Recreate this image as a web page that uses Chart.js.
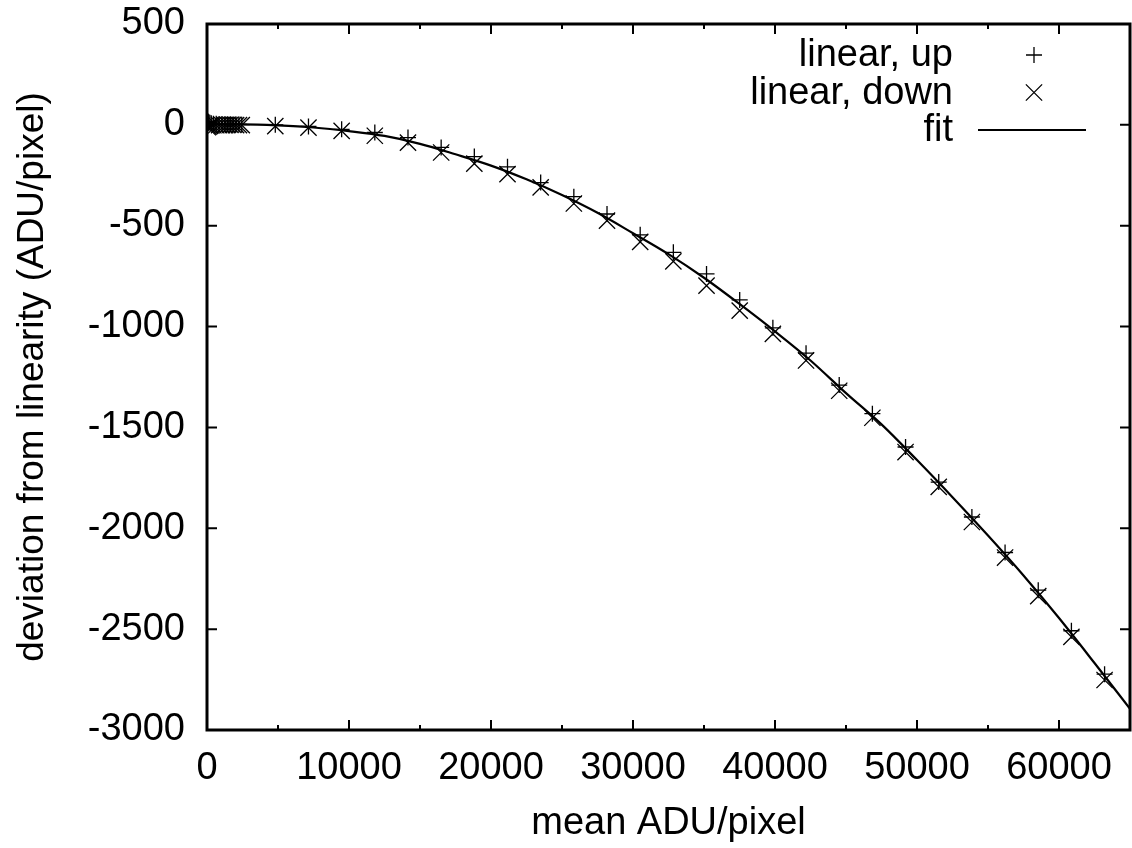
<!DOCTYPE html>
<html>
<head>
<meta charset="utf-8">
<script src="https://cdn.jsdelivr.net/npm/chart.js@4.4.1/dist/chart.umd.min.js"></script>
<style>
  html, body { margin: 0; padding: 0; background: #fff; }
  canvas { display: block; }
</style>
</head>
<body>
<canvas id="c" width="1132" height="848"></canvas>
<script>
// Low-light flats (dense cluster near zero)
const lowLightAdu  = [60, 120, 200, 300, 450, 650, 850, 1050, 1250, 1450, 1650, 1850, 2050, 2250, 2450];
const lowLightUp   = [18, 14, 10, 8, 6, 5, 4, 4, 3, 3, 3, 2, 2, 2, 1];
const lowLightDown = [-12, -8, -5, -3, -2, -2, -1, -1, -1, 0, 0, 0, -1, -1, -1];

// Main exposure ladder
const meanAdu = [4810, 7146, 9482, 11818, 14154, 16490, 18826, 21162, 23498, 25834,
                 28170, 30506, 32842, 35178, 37514, 39850, 42186, 44522, 46858, 49194,
                 51530, 53866, 56202, 58538, 60874, 63210];
const deviationUp = [0, -8, -22, -38, -63, -112, -157, -208, -286, -356,
                     -442, -545, -632, -739, -868, -1006, -1132, -1290, -1432, -1597,
                     -1771, -1944, -2120, -2307, -2508, -2723];
const deviationDown = [-6, -14, -30, -54, -88, -137, -192, -244, -310, -390,
                       -475, -580, -677, -797, -921, -1036, -1168, -1318, -1452, -1622,
                       -1795, -1969, -2145, -2336, -2538, -2752];

// Fitted curve samples
const fitAdu = [0, 2500, 5000, 7500, 10000, 12500, 15000, 17500, 20000, 22500, 25000,
                27500, 30000, 32500, 35000, 37500, 40000, 42500, 45000, 47500, 50000,
                52500, 55000, 57500, 60000, 62500, 65000];
const fitDeviation = [0, 2, -3, -13, -31, -55, -94, -146, -202, -270, -348,
                      -436, -537, -641, -758, -888, -1024, -1168, -1330, -1485, -1662,
                      -1846, -2036, -2234, -2445, -2668, -2895];

// Axis ticks
const xTicks = [0, 10000, 20000, 30000, 40000, 50000, 60000];
const xMinorTicks = [5000, 15000, 25000, 35000, 45000, 55000];
const yTicks = [500, 0, -500, -1000, -1500, -2000, -2500, -3000];

const seriesLabels = ['linear, up', 'linear, down', 'fit'];
const xTitle = 'mean ADU/pixel';
const yTitle = 'deviation from linearity (ADU/pixel)';

const FONT = '"Liberation Sans", Arial, sans-serif';
const FS = 38;

function pairs(xs, ys) { return xs.map((x, i) => ({ x: x, y: ys[i] })); }

const upData = pairs(lowLightAdu, lowLightUp).concat(pairs(meanAdu, deviationUp));
const downData = pairs(lowLightAdu, lowLightDown).concat(pairs(meanAdu, deviationDown));
const fitData = pairs(fitAdu, fitDeviation);

// Border with inward ticks on all four sides
const framePlugin = {
  id: 'frame',
  beforeDatasetsDraw(chart) {
    const { ctx, chartArea: a, scales } = chart;
    const xs = scales.x, ys = scales.y;
    const major = 10, minor = 5;
    ctx.save();
    ctx.strokeStyle = '#000';
    ctx.lineWidth = 2;
    ctx.beginPath();
    xs.ticks.forEach(t => {
      const px = xs.getPixelForValue(t.value);
      ctx.moveTo(px, a.bottom); ctx.lineTo(px, a.bottom - major);
      ctx.moveTo(px, a.top); ctx.lineTo(px, a.top + major);
    });
    xMinorTicks.forEach(v => {
      const px = xs.getPixelForValue(v);
      ctx.moveTo(px, a.bottom); ctx.lineTo(px, a.bottom - minor);
      ctx.moveTo(px, a.top); ctx.lineTo(px, a.top + minor);
    });
    ys.ticks.forEach(t => {
      const py = ys.getPixelForValue(t.value);
      ctx.moveTo(a.left, py); ctx.lineTo(a.left + major, py);
      ctx.moveTo(a.right, py); ctx.lineTo(a.right - major, py);
    });
    ctx.stroke();
    ctx.lineWidth = 3;
    ctx.strokeRect(a.left, a.top, a.right - a.left, a.bottom - a.top);
    ctx.restore();
  }
};

// Key in the upper right: label right-aligned, sample to its right
const keyPlugin = {
  id: 'key',
  afterDraw(chart) {
    const { ctx } = chart;
    ctx.save();
    ctx.font = FS + 'px ' + FONT;
    ctx.fillStyle = '#000';
    ctx.textAlign = 'right';
    ctx.textBaseline = 'middle';
    const textRight = 953, sampleX = 1034, rows = [55, 92.5, 130];
    chart.data.datasets.forEach((ds, i) => {
      const y = rows[i];
      ctx.fillText(ds.label, textRight, y + 1);
      ctx.strokeStyle = '#000';
      ctx.lineWidth = ds.borderWidth;
      if (ds.showLine) {
        ctx.beginPath();
        ctx.moveTo(978, y); ctx.lineTo(1086, y);
        ctx.stroke();
      } else {
        Chart.helpers.drawPoint(ctx, { pointStyle: ds.pointStyle, radius: ds.pointRadius,
                                        borderWidth: ds.borderWidth, rotation: 0 }, sampleX, y);
      }
    });
    ctx.restore();
  }
};

function fixedTicks(values) {
  return function (scale) { scale.ticks = values.map(v => ({ value: v })); };
}

new Chart(document.getElementById('c'), {
  type: 'scatter',
  data: {
    datasets: [
      { label: seriesLabels[0], data: upData, pointStyle: 'cross', pointRadius: 8,
        borderColor: '#000', backgroundColor: '#000', borderWidth: 1.3, showLine: false, order: 2 },
      { label: seriesLabels[1], data: downData, pointStyle: 'crossRot', pointRadius: 11.5,
        borderColor: '#000', backgroundColor: '#000', borderWidth: 1.3, showLine: false, order: 1 },
      { label: seriesLabels[2], data: fitData, showLine: true, pointRadius: 0, borderWidth: 2.2,
        borderColor: '#000', tension: 0.4, cubicInterpolationMode: 'monotone', order: 0 }
    ]
  },
  options: {
    responsive: false,
    animation: false,
    devicePixelRatio: 1,
    layout: { autoPadding: false, padding: { top: 24, right: 2, left: 0, bottom: 0 } },
    plugins: { legend: { display: false }, tooltip: { enabled: false } },
    scales: {
      x: {
        type: 'linear', min: 0, max: 65000,
        grid: { display: false },
        border: { display: false },
        afterBuildTicks: fixedTicks(xTicks),
        ticks: { maxRotation: 0, minRotation: 0, autoSkip: false,
                 color: '#000', font: { family: FONT, size: FS }, padding: 8,
                 callback: v => String(v) },
        title: { display: true, text: xTitle, color: '#000', font: { family: FONT, size: FS },
                 padding: { top: 0, bottom: 2 } },
        afterFit(s) { s.height = 118; s.paddingLeft = 0; s.paddingRight = 0; }
      },
      y: {
        type: 'linear', min: -3000, max: 500,
        grid: { display: false },
        border: { display: false },
        afterBuildTicks: fixedTicks(yTicks),
        ticks: { autoSkip: false,
                 color: '#000', font: { family: FONT, size: FS }, padding: 14,
                 callback: v => String(v) },
        title: { display: true, text: yTitle, color: '#000', font: { family: FONT, size: 37 },
                 padding: { top: 11, bottom: 0 } },
        afterFit(s) { s.width = 207; s.paddingTop = 0; s.paddingBottom = 0; }
      }
    }
  },
  plugins: [framePlugin, keyPlugin]
});
</script>
</body>
</html>
